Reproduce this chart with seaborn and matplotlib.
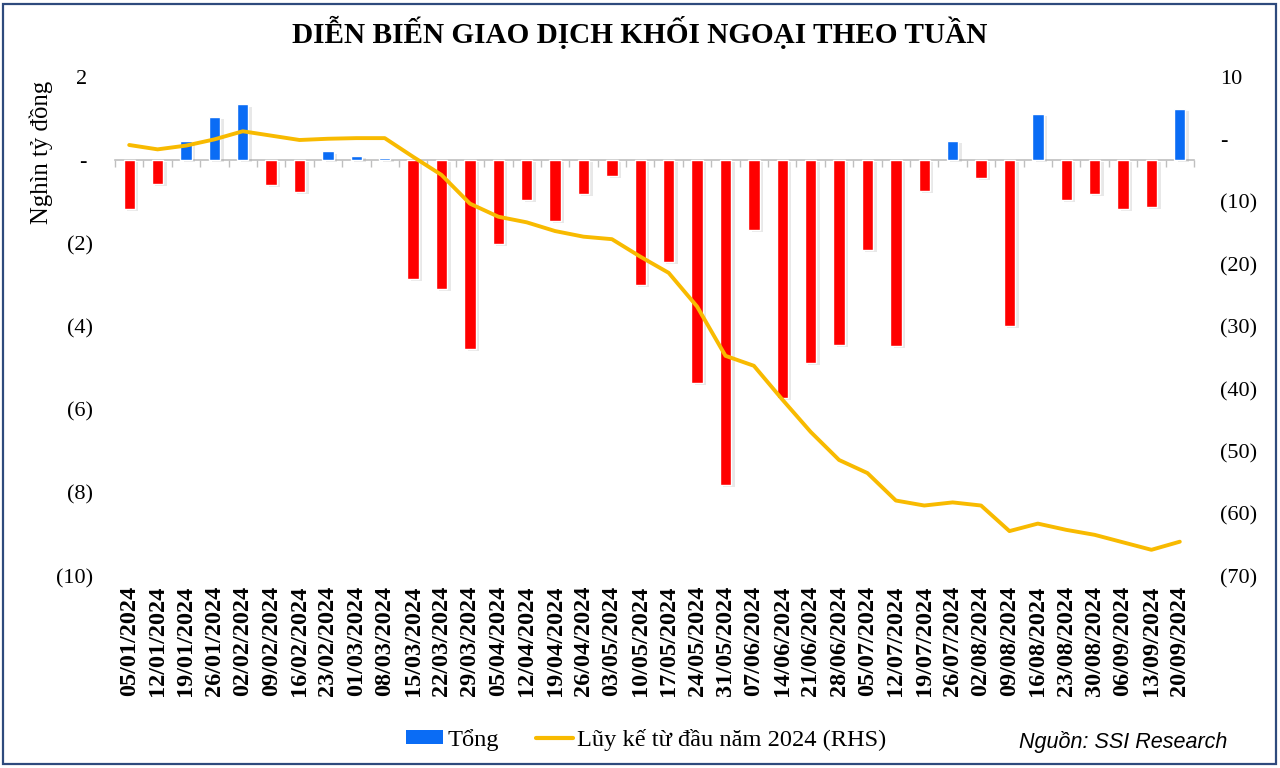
import numpy as np
import pandas as pd
import matplotlib
matplotlib.use("Agg")
import matplotlib.pyplot as plt
import matplotlib.patheffects as pe
from matplotlib.patches import Patch, Rectangle
from matplotlib.lines import Line2D
from matplotlib.ticker import FuncFormatter
import seaborn as sns

# ---------------- data ----------------
weeks = ["05/01/2024", "12/01/2024", "19/01/2024", "26/01/2024", "02/02/2024",
         "09/02/2024", "16/02/2024", "23/02/2024", "01/03/2024", "08/03/2024",
         "15/03/2024", "22/03/2024", "29/03/2024", "05/04/2024", "12/04/2024",
         "19/04/2024", "26/04/2024", "03/05/2024", "10/05/2024", "17/05/2024",
         "24/05/2024", "31/05/2024", "07/06/2024", "14/06/2024", "21/06/2024",
         "28/06/2024", "05/07/2024", "12/07/2024", "19/07/2024", "26/07/2024",
         "02/08/2024", "09/08/2024", "16/08/2024", "23/08/2024", "30/08/2024",
         "06/09/2024", "13/09/2024", "20/09/2024"]

weekly_net = [-1.18, -0.58, 0.47, 1.05, 1.34, -0.60, -0.76, 0.21, 0.11, 0.06,
              -2.85, -3.10, -4.55, -2.02, -0.95, -1.46, -0.82, -0.37, -3.00, -2.45,
              -5.35, -7.80, -1.67, -5.71, -4.87, -4.44, -2.15, -4.46, -0.73, 0.47,
              -0.42, -3.98, 1.11, -0.95, -0.81, -1.18, -1.12, 1.23]

ytd_cumulative = [-0.9, -1.6, -1.0, 0.0, 1.3, 0.6, -0.1, 0.1, 0.2, 0.2,
                  -2.8, -5.7, -10.3, -12.4, -13.3, -14.7, -15.6, -16.0, -18.8, -21.4,
                  -26.8, -34.7, -36.3, -41.7, -46.9, -51.4, -53.5, -57.9, -58.7, -58.2,
                  -58.7, -62.8, -61.6, -62.6, -63.4, -64.6, -65.8, -64.5]

left_ticks = [2, 0, -2, -4, -6, -8, -10]
right_ticks = [10, 0, -10, -20, -30, -40, -50, -60, -70]

title = "DIỄN BIẾN GIAO DỊCH KHỐI NGOẠI THEO TUẦN"
ylabel = "Nghìn tỷ đồng"
bar_label = "Tổng"
line_label = "Lũy kế từ đầu năm 2024 (RHS)"
source = "Nguồn: SSI Research"

# ---------------- style ----------------
sns.set_theme(style="white")
SERIF = ["Liberation Serif", "DejaVu Serif"]
plt.rcParams["font.family"] = SERIF
plt.rcParams["text.color"] = "black"
plt.rcParams["axes.labelcolor"] = "black"
plt.rcParams["xtick.color"] = "black"
plt.rcParams["ytick.color"] = "black"

RED = "#FF0000"
BLUE = "#0A6CF5"
GOLD = "#F8BA00"

df = pd.DataFrame({"week": weeks, "net": weekly_net})
df["sign"] = np.where(df["net"] >= 0, "pos", "neg")
line_df = pd.DataFrame({"pos_idx": np.arange(len(weeks)), "cum": ytd_cumulative})

fig = plt.figure(figsize=(12.8, 7.68), dpi=100)
ax = fig.add_axes([115 / 1280, 1 - 576 / 768, (1194 - 115) / 1280, (576 - 77) / 768])

sns.barplot(data=df, x="week", y="net", hue="sign", order=weeks,
            palette={"pos": BLUE, "neg": RED}, dodge=False, width=0.4,
            errorbar=None, legend=False, ax=ax, saturation=1)
for p in ax.patches:
    p.set_path_effects([pe.SimplePatchShadow(offset=(2.5, -1.5), shadow_rgbFace="#9A9A9A", alpha=0.22),
                        pe.Normal()])

ax.set_ylim(-10, 2)
ax.set_xlim(-0.5, len(weeks) - 0.5)
ax.set_yticks(left_ticks)


def fmt_left(v, pos=None):
    if abs(v) < 1e-9:
        return "- "
    if v < 0:
        return f"({abs(v):.0f})"
    return f"{v:.0f} "


def fmt_right(v, pos=None):
    if abs(v) < 1e-9:
        return "-"
    if v < 0:
        return f"({abs(v):.0f})"
    return f"{v:.0f}"


ax.yaxis.set_major_formatter(FuncFormatter(fmt_left))
ax.tick_params(axis="y", length=0, pad=16, labelsize=16, labelcolor="black")
ax.set_xticks(np.arange(len(weeks)))
ax.set_xticklabels(weeks, rotation=90, fontweight="bold", fontsize=17.5)
ax.tick_params(axis="x", length=0, pad=7, labelcolor="black")
ax.set_xlabel("")
ax.set_ylabel(ylabel, fontsize=17.8, color="black")
ax.yaxis.set_label_coords(-0.0575, 0.849)
for s in ax.spines.values():
    s.set_visible(False)

# zero line with category-boundary ticks
sec = ax.secondary_xaxis(0, transform=ax.transData)
sec.set_xticks(np.arange(-0.5, len(weeks), 1.0))
sec.tick_params(axis="x", length=5, width=1, color="#BFBFBF", labelbottom=False, labeltop=False)
sec.spines["bottom"].set_color("#BFBFBF")
sec.spines["bottom"].set_linewidth(1.2)

# cumulative line on right axis
ax2 = ax.twinx()
sns.lineplot(data=line_df, x="pos_idx", y="cum", color=GOLD, linewidth=2.8,
             ax=ax2, sort=False)
ax2.set_ylim(-70, 10)
ax2.set_yticks(right_ticks)
ax2.yaxis.set_major_formatter(FuncFormatter(fmt_right))
ax2.tick_params(axis="y", length=0, pad=19, labelsize=16, labelcolor="black")
ax2.set_ylabel("")
ax2.set_xlabel("")
for s in ax2.spines.values():
    s.set_visible(False)
ax2.set_xlim(-0.5, len(weeks) - 0.5)

# title
fig.text(0.5, 0.958, title, ha="center", va="center", fontsize=21.1,
         fontweight="bold", family=SERIF, color="black")

# legend
handles = [Patch(facecolor=BLUE, edgecolor="none"),
           Line2D([0], [0], color=GOLD, linewidth=3)]
fig.legend(handles, [bar_label, line_label], loc="center", ncol=2,
           bbox_to_anchor=(0.505, 0.037), frameon=False,
           handlelength=1.5, handleheight=0.55, handletextpad=0.2,
           columnspacing=1.5, prop={"family": SERIF, "size": 17.6})

fig.text(0.959, 0.034, source, ha="right", va="center", fontsize=15.5,
         style="italic", family=["Liberation Sans", "DejaVu Sans"], color="black")

# outer frame
fig.patches.append(Rectangle((3 / 1280, 4 / 768), 1273 / 1280, 760 / 768,
                             transform=fig.transFigure, fill=False,
                             edgecolor="#2E4A7D", linewidth=1.6))

fig.savefig("out.png", dpi=100)
